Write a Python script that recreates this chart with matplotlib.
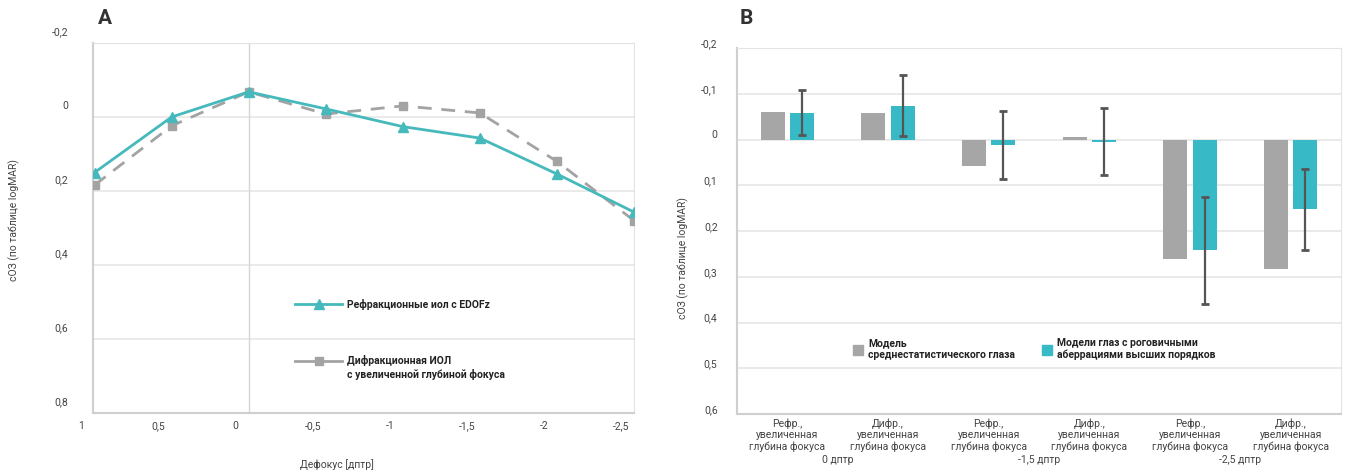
import matplotlib.pyplot as plt
import matplotlib.transforms as mtransforms
from matplotlib.lines import Line2D
from matplotlib.patches import Rectangle

plt.rcParams['font.family'] = ['Roboto', 'DejaVu Sans']

# panel A: defocus curve
defocus = [1, 0.5, 0, -0.5, -1, -1.5, -2, -2.5]
refr_edof = [0.15, 0.0, -0.068, -0.022, 0.026, 0.057, 0.154, 0.257]
diffr_edof = [0.184, 0.024, -0.068, -0.008, -0.03, -0.011, 0.12, 0.28]
a_yticks = [-0.2, 0, 0.2, 0.4, 0.6, 0.8]
a_ylabels = ["-0,2", "0", "0,2", "0,4", "0,6", "0,8"]
a_xticks = [1, 0.5, 0, -0.5, -1, -1.5, -2, -2.5]
a_xlabels = ["1", "0,5", "0", "-0,5", "-1", "-1,5", "-2", "-2,5"]

# panel B: bars
groups = ["Рефр.,\nувеличенная\nглубина фокуса", "Дифр.,\nувеличенная\nглубина фокуса"] * 3
group_defocus = ["0 дптр", "-1,5 дптр", "-2,5 дптр"]
avg_eye = [-0.061, -0.059, 0.059, -0.005, 0.261, 0.283]
hoa_eye = [-0.059, -0.074, 0.012, 0.005, 0.242, 0.153]
hoa_err = [0.05, 0.067, 0.074, 0.073, 0.117, 0.088]
b_yticks = [-0.2, -0.1, 0, 0.1, 0.2, 0.3, 0.4, 0.5, 0.6]
b_ylabels = ["-0,2", "-0,1", "0", "0,1", "0,2", "0,3", "0,4", "0,5", "0,6"]

TEAL_LINE = "#45b9bb"
TEAL = "#37b9c6"
GREY = "#a6a6a6"
GREY_LINE = "#a3a3a3"
TXT = "#444444"
GRID = "#e6e6e6"

fig = plt.figure(figsize=(13.47, 4.70), dpi=100)
W, H = 1347, 470

def box(l, t, r, b):
    return [l / W, 1 - b / H, (r - l) / W, (b - t) / H]

# ---------- A ----------
ax = fig.add_axes(box(93, 43, 634, 413))
ax.plot(defocus, diffr_edof, color=GREY_LINE, lw=2, ls=(0, (5, 3.5)),
        marker="s", ms=5.5, zorder=3)
ax.plot(defocus, refr_edof, color=TEAL_LINE, lw=2, marker="^", ms=6.5, zorder=4)
ax.axvline(0, color="#d6d6d6", lw=1, zorder=1)
ax.set_xlim(1.01, -2.5)
ax.set_ylim(0.8, -0.2)
ax.set_yticks(a_yticks)
ax.set_yticklabels(a_ylabels)
ax.set_xticks(a_xticks)
ax.set_xticklabels(a_xlabels)
ax.grid(axis="y", color=GRID, lw=1.2)
ax.set_axisbelow(True)
ax.tick_params(length=0, labelsize=7.5, labelcolor=TXT)
ax.tick_params(axis="y", pad=18)
ax.tick_params(axis="x", pad=6)
for s in ax.spines.values():
    s.set_color("#e3e3e3")
ax.spines["left"].set_color("#cfcfcf")
ax.spines["bottom"].set_color("#cfcfcf")
ax.spines["left"].set_linewidth(1.5)
ax.spines["bottom"].set_linewidth(1.5)
up = mtransforms.ScaledTranslation(0, 0.12, fig.dpi_scale_trans)
for lab in ax.get_yticklabels():
    lab.set_transform(lab.get_transform() + up)
left = mtransforms.ScaledTranslation(-0.13, 0, fig.dpi_scale_trans)
for lab in ax.get_xticklabels():
    lab.set_transform(lab.get_transform() + left)

# legend A (drawn by hand to keep the spacing of the original)
def ax_pt(x, y, a, box_lr):
    l, r, t, b = box_lr
    return (x - l) / (r - l), (b - y) / (b - t)

A_BOX = (93, 634, 43, 413)
x0, y0 = ax_pt(295, 304, ax, A_BOX)
x1, _ = ax_pt(342, 304, ax, A_BOX)
ax.add_line(Line2D([x0, x1], [y0, y0], color=TEAL_LINE, lw=2, transform=ax.transAxes))
ax.add_line(Line2D([(x0 + x1) / 2], [y0], color=TEAL_LINE, marker="^", ms=6.5,
                   transform=ax.transAxes))
tx, _ = ax_pt(347, 304, ax, A_BOX)
ax.text(tx, y0, "Рефракционные иол с EDOFz", transform=ax.transAxes, fontsize=7.5,
        fontweight="bold", color="#222222", va="center", ha="left")
_, y2 = ax_pt(295, 361, ax, A_BOX)
ax.add_line(Line2D([x0, x1], [y2, y2], color=GREY_LINE, lw=2, transform=ax.transAxes))
ax.add_line(Line2D([(x0 + x1) / 2], [y2], color=GREY_LINE, marker="s", ms=5.5,
                   transform=ax.transAxes))
ax.text(tx, y2, "Дифракционная ИОЛ", transform=ax.transAxes, fontsize=7.5,
        fontweight="bold", color="#222222", va="center", ha="left")
_, y3 = ax_pt(295, 375, ax, A_BOX)
ax.text(tx, y3, "с увеличенной глубиной фокуса", transform=ax.transAxes, fontsize=7.5,
        fontweight="bold", color="#222222", va="center", ha="left")

fig.text(98 / W, 1 - 18 / H, "A", fontsize=15, fontweight="bold", color="#333333",
         va="center", ha="left")
fig.text(14 / W, 1 - 220 / H, "сОЗ (по таблице logMAR)", rotation=90, fontsize=7.5,
         color=TXT, va="center", ha="center")
fig.text(337 / W, 1 - 465 / H, "Дефокус [дптр]", fontsize=7.5, color=TXT,
         va="center", ha="center")

# ---------- B ----------
bx = fig.add_axes(box(737, 48, 1341, 414))
xs = list(range(len(groups)))
bw = 0.24
off = 0.145
bx.bar([x - off for x in xs], avg_eye, width=bw, color=GREY, zorder=2)
bx.bar([x + off for x in xs], hoa_eye, width=bw, color=TEAL, zorder=2)
bx.errorbar([x + off for x in xs], hoa_eye, yerr=hoa_err, fmt="none",
            ecolor="#555555", elinewidth=1.6, capsize=3, capthick=2, zorder=3)
bx.set_xlim(-0.5, 5.5)
bx.set_ylim(0.6, -0.2)
bx.set_yticks(b_yticks)
bx.set_yticklabels(b_ylabels)
bx.set_xticks(xs)
bx.set_xticklabels(groups, linespacing=1.2)
bx.grid(axis="y", color=GRID, lw=1.2)
bx.set_axisbelow(True)
bx.tick_params(length=0, labelsize=7.5, labelcolor=TXT)
bx.tick_params(axis="y", pad=14)
bx.tick_params(axis="x", pad=3)
for s in bx.spines.values():
    s.set_color("#e3e3e3")
bx.spines["left"].set_color("#cfcfcf")
bx.spines["bottom"].set_color("#cfcfcf")
bx.spines["left"].set_linewidth(1.5)
bx.spines["bottom"].set_linewidth(1.5)
up_b = mtransforms.ScaledTranslation(0, 0.05, fig.dpi_scale_trans)
for lab in bx.get_yticklabels():
    lab.set_transform(lab.get_transform() + up_b)
blend = mtransforms.blended_transform_factory(bx.transData, bx.transAxes)
for i, lab in enumerate(group_defocus):
    bx.text(2 * i + 0.5, -(460 - 414) / 366, lab, transform=blend, fontsize=7.5,
            color=TXT, ha="center", va="center")

# legend B
B_BOX = (737, 1341, 48, 414)
for sx, col, l1, l2 in [(853, GREY, "Модель", "среднестатистического глаза"),
                        (1042, TEAL, "Модели глаз с роговичными", "аберрациями высших порядков")]:
    rx, ry = ax_pt(sx, 355, bx, B_BOX)
    rw = 10 / (1341 - 737)
    rh = 10 / (414 - 48)
    bx.add_patch(Rectangle((rx, ry), rw, rh, color=col, transform=bx.transAxes,
                           zorder=4))
    tx, ty1 = ax_pt(sx + 15, 343, bx, B_BOX)
    _, ty2 = ax_pt(sx + 15, 355, bx, B_BOX)
    bx.text(tx, ty1, l1, transform=bx.transAxes, fontsize=7.5, fontweight="bold",
            color="#222222", va="center", ha="left")
    bx.text(tx, ty2, l2, transform=bx.transAxes, fontsize=7.5, fontweight="bold",
            color="#222222", va="center", ha="left")

fig.text(740 / W, 1 - 19 / H, "B", fontsize=15, fontweight="bold", color="#333333",
         va="center", ha="left")
fig.text(683 / W, 1 - 258 / H, "сОЗ (по таблице logMAR)", rotation=90, fontsize=7.5,
         color=TXT, va="center", ha="center")

fig.savefig("out.png", dpi=100)
